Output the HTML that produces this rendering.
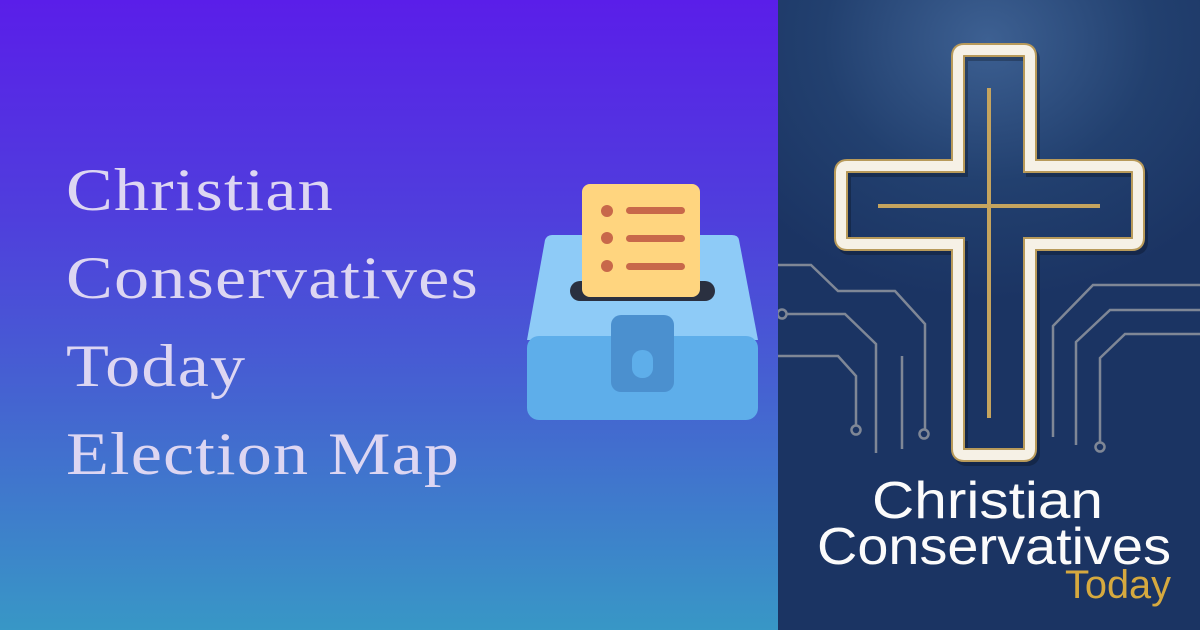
<!DOCTYPE html>
<html><head><meta charset="utf-8"><style>
html,body{margin:0;padding:0}
body{width:1200px;height:630px;position:relative;overflow:hidden;font-family:"Liberation Sans",sans-serif}
#left{position:absolute;left:0;top:0;width:778px;height:630px;background:linear-gradient(180deg,#5a1ee9 0%,#4f3fdc 35%,#4466d0 65%,#3897c6 100%)}
#title{position:absolute;left:66px;top:146px;font-family:"Liberation Serif",serif;font-size:60px;line-height:88px;letter-spacing:1px;color:#ddd6f2;transform:scaleX(1.17);transform-origin:0 0;white-space:nowrap}
#right{position:absolute;left:778px;top:0;width:422px;height:630px;background:radial-gradient(ellipse 300px 260px at 210px 40px,#3d6092 0%,#22406f 55%,#1b3463 100%)}
</style></head><body>
<div id="left">
<div id="title">Christian<br>Conservatives<br>Today<br>Election Map</div>
<svg width="778" height="630" style="position:absolute;left:0;top:0">
<path d="M545 240 Q547 235 552 235 L732 235 Q738 235 739 240 L758 340 L527 340 Z" fill="#8ecbf7"/>
<rect x="527" y="336" width="231" height="84" rx="12" fill="#5eaeea"/>
<rect x="570" y="281" width="145" height="20" rx="10" fill="#2a3040"/>
<rect x="582" y="184" width="118" height="113" rx="8" fill="#ffd57f"/>
<circle cx="607" cy="211" r="6" fill="#c8684a"/><rect x="626" y="207" width="59" height="7" rx="3.5" fill="#c8684a"/>
<circle cx="607" cy="238" r="6" fill="#c8684a"/><rect x="626" y="235" width="59" height="7" rx="3.5" fill="#c8684a"/>
<circle cx="607" cy="266" r="6" fill="#c8684a"/><rect x="626" y="263" width="59" height="7" rx="3.5" fill="#c8684a"/>
<rect x="611" y="315" width="63" height="77" rx="10" fill="#4b90cf"/>
<rect x="632" y="350" width="21" height="28" rx="10" fill="#5eaeea"/>
</svg>
</div>
<div id="right">
<svg width="422" height="630" style="position:absolute;left:0;top:0">
<g fill="none" stroke="#7f8796" stroke-width="2.5">
<path d="M0 265 H33 L60 291 H117 L147 324 V429"/>
<circle cx="146" cy="434" r="4.5"/>
<circle cx="4" cy="314" r="4.5"/>
<path d="M8 314 H67 L98 344 V453"/>
<path d="M0 356 H60 L78 376 V425"/>
<circle cx="78" cy="430" r="4.5"/>
<path d="M124 356 V449"/>
<path d="M422 285 H315 L275 326 V437"/>
<path d="M422 310 H332 L298 342 V445"/>
<path d="M422 334 H347 L322 358 V442"/>
<circle cx="322" cy="447" r="4.5"/>
</g>
<path d="M180 56 Q180 50 186 50 H246 Q252 50 252 56 V166 H354 Q360 166 360 172 V238 Q360 244 354 244 H252 V449 Q252 455 246 455 H186 Q180 455 180 449 V244 H69 Q63 244 63 238 V172 Q63 166 69 166 H180 Z" fill="none" stroke="#000" stroke-opacity="0.25" stroke-width="14" transform="translate(3,4)"/>
<path d="M180 56 Q180 50 186 50 H246 Q252 50 252 56 V166 H354 Q360 166 360 172 V238 Q360 244 354 244 H252 V449 Q252 455 246 455 H186 Q180 455 180 449 V244 H69 Q63 244 63 238 V172 Q63 166 69 166 H180 Z" fill="none" stroke="#b89a5a" stroke-width="14"/>
<path d="M180 56 Q180 50 186 50 H246 Q252 50 252 56 V166 H354 Q360 166 360 172 V238 Q360 244 354 244 H252 V449 Q252 455 246 455 H186 Q180 455 180 449 V244 H69 Q63 244 63 238 V172 Q63 166 69 166 H180 Z" fill="none" stroke="#f6f1e6" stroke-width="10"/>
<line x1="211" y1="88" x2="211" y2="418" stroke="#c5a45e" stroke-width="4"/>
<line x1="100" y1="206" x2="322" y2="206" stroke="#c5a45e" stroke-width="4"/>
<text x="94" y="518" font-family="Liberation Sans,sans-serif" font-size="52" fill="#fbfbfb" textLength="231" lengthAdjust="spacingAndGlyphs">Christian</text>
<text x="39" y="564" font-family="Liberation Sans,sans-serif" font-size="52" fill="#fbfbfb" textLength="354" lengthAdjust="spacingAndGlyphs">Conservatives</text>
<text x="287" y="598" font-family="Liberation Sans,sans-serif" font-size="40" fill="#d6a93f" textLength="106" lengthAdjust="spacingAndGlyphs">Today</text>
</svg>
</div>
</body></html>
